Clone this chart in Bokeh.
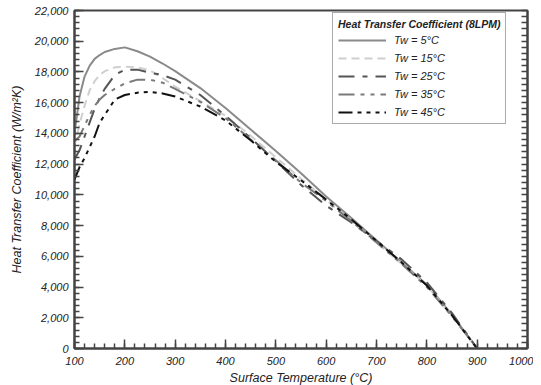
from bokeh.plotting import figure
from bokeh.models import (ColumnDataSource, LinearAxis, SingleIntervalTicker, NumeralTickFormatter,
                          FixedTicker, Range1d, Legend, LegendItem)
from bokeh.embed import file_html
from bokeh.resources import INLINE

temps = [100, 110, 120, 130, 140, 150, 160, 180, 200, 225, 250, 275, 300, 350, 400,
         450, 500, 550, 600, 650, 700, 750, 800, 850, 900]
h_5 = [14000, 16400, 17700, 18400, 18850, 19100, 19300, 19500, 19600, 19350, 19000, 18550,
       18050, 16950, 15650, 14250, 12850, 11400, 9900, 8500, 7050, 5600, 4150, 2200, 0]
h_15 = [13200, 14600, 15800, 16800, 17400, 17800, 18050, 18300, 18350, 18300, 18100, 17600,
        17050, 16100, 15150, 13850, 12450, 11050, 9700, 8300, 6900, 5500, 4100, 2100, 0]
h_25 = [12300, 12900, 13800, 14700, 15600, 16300, 16900, 17800, 18150, 18150, 17950, 17800,
        17500, 16500, 15150, 13700, 12200, 10650, 9300, 8200, 7000, 5800, 4300, 2300, 0]
h_35 = [13500, 13800, 14500, 15200, 15800, 16200, 16500, 16900, 17250, 17500, 17500, 17300,
        16900, 16050, 15000, 13600, 12250, 10800, 9600, 8300, 6900, 5500, 4000, 2100, 0]
h_45 = [11000, 11800, 12400, 13100, 13800, 14700, 15200, 16200, 16500, 16650, 16700, 16600,
        16400, 15750, 14850, 13550, 12150, 10950, 9700, 8400, 7000, 5600, 4100, 2150, 0]

series_labels = ["Tw = 5°C", "Tw = 15°C", "Tw = 25°C", "Tw = 35°C", "Tw = 45°C"]
legend_title = "Heat Transfer Coefficient (8LPM)"
x_title = "Surface Temperature (°C)"
y_title = "Heat Transfer Coefficient (W/m²K)"

FONT = "Liberation Sans"
AX = "#444444"
Y_MAX = 22000

p = figure(frame_width=453, frame_height=338, output_backend="svg", toolbar_location=None,
           x_range=Range1d(100, 1000), y_range=Range1d(0, Y_MAX),
           min_border_left=74, min_border_right=6, min_border_top=10, min_border_bottom=35,
           x_axis_type=None, y_axis_type=None)
p.grid.visible = False
p.outline_line_color = AX
p.outline_line_width = 2
p.background_fill_color = "white"
p.border_fill_color = "white"

def style_axis(ax):
    ax.axis_line_color = AX
    ax.axis_line_width = 2
    ax.major_tick_in = 9
    ax.major_tick_out = 0
    ax.minor_tick_in = 5
    ax.minor_tick_out = 0
    ax.major_tick_line_color = AX
    ax.minor_tick_line_color = AX
    ax.major_tick_line_width = 1.5
    ax.minor_tick_line_width = 1.5
    ax.major_label_text_font = FONT
    ax.major_label_text_font_style = "italic"
    ax.major_label_text_font_size = "11px"
    ax.major_label_text_color = "#222222"
    ax.axis_label_text_font = FONT
    ax.axis_label_text_font_style = "italic"
    ax.axis_label_text_font_size = "12.5px"
    ax.axis_label_text_color = "#222222"

xt = SingleIntervalTicker(interval=100, num_minor_ticks=5)
yt = SingleIntervalTicker(interval=2000, num_minor_ticks=5)

xb = LinearAxis(ticker=xt, axis_label=x_title)
style_axis(xb)
xb.major_label_standoff = 8
xb.axis_label_standoff = 3
p.add_layout(xb, "below")

yl = LinearAxis(ticker=yt, axis_label=y_title, formatter=NumeralTickFormatter(format="0,0"))
style_axis(yl)
yl.major_label_standoff = 6
yl.axis_label_standoff = 8
p.add_layout(yl, "left")

# right axis: tick marks only (no labels)
yr = LinearAxis(ticker=FixedTicker(ticks=[], minor_ticks=list(range(0, Y_MAX + 1, 400))))
style_axis(yr)
yr.minor_tick_in = 6
p.add_layout(yr, "right")

src = ColumnDataSource(dict(t=temps, h5=h_5, h15=h_15, h25=h_25, h35=h_35, h45=h_45))
styles = [
    ("h5", "#8a8a8a", "solid"),
    ("h15", "#cfcfcf", "8 5"),
    ("h25", "#555555", "16 8 5 8"),
    ("h35", "#7a7a7a", "16 6 4 6 4 6"),
    ("h45", "#111111", "14 5 4 5 4 5 4 5"),
]
items = []
for (col, color, dash), lab in zip(styles, series_labels):
    r = p.line("t", col, source=src, line_color=color, line_width=2, line_dash=dash)
    items.append(LegendItem(label=lab, renderers=[r]))

legend = Legend(items=items, location=(258, 224), title=legend_title,
                title_text_font=FONT, title_text_font_style="bold italic",
                title_text_font_size="10.5px", title_text_color="#222222",
                label_text_font=FONT, label_text_font_style="italic",
                label_text_font_size="11px", label_text_color="#222222",
                glyph_width=48, glyph_height=12, label_height=12, spacing=6,
                padding=5, margin=0, border_line_color="#555555", border_line_width=1,
                background_fill_color="white", background_fill_alpha=1.0,
                title_standoff=4, label_standoff=8)
p.add_layout(legend, "center")

open("out.html", "w").write(file_html(p, INLINE))
